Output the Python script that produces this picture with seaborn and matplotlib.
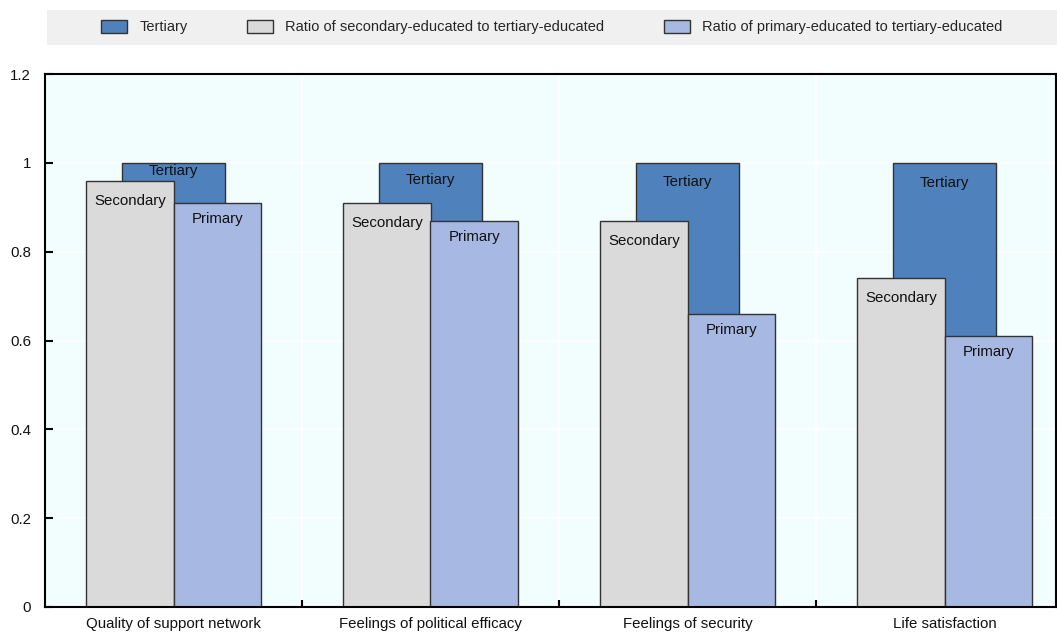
import pandas as pd
import matplotlib.pyplot as plt
import seaborn as sns
from matplotlib.patches import Patch, Rectangle

# Data
categories = ['Quality of support network', 'Feelings of political efficacy',
              'Feelings of security', 'Life satisfaction']
tertiary = [1.0, 1.0, 1.0, 1.0]
secondary = [0.96, 0.91, 0.87, 0.74]
primary = [0.91, 0.87, 0.66, 0.61]

c_tert = '#4f81bd'
c_sec = '#dadada'
c_prim = '#a7b9e3'
edge = '#333333'

sns.set_theme(style='white')
plt.rcParams['font.family'] = ['Liberation Sans', 'DejaVu Sans']
fs = 10.8

fig = plt.figure(figsize=(10.57, 6.34), dpi=100)
ax = fig.add_axes([45 / 1057, 27 / 634, 1011 / 1057, 533 / 634])
ax.set_facecolor('#f2fdfd')

# Tertiary bars behind
df_t = pd.DataFrame({'cat': categories, 'value': tertiary})
sns.barplot(data=df_t, x='cat', y='value', color=c_tert, width=0.4,
            edgecolor=edge, linewidth=1, saturation=1, errorbar=None, ax=ax)

# Secondary and primary ratios side by side
df_r = pd.DataFrame({
    'cat': categories * 2,
    'value': secondary + primary,
    'level': ['Secondary'] * 4 + ['Primary'] * 4,
})
sns.barplot(data=df_r, x='cat', y='value', hue='level', hue_order=['Secondary', 'Primary'],
            palette=[c_sec, c_prim], width=0.68, gap=0, dodge=True,
            edgecolor=edge, linewidth=1, saturation=1, errorbar=None, legend=False, ax=ax)

# bar labels (label offsets below bar top, in points)
tert_off = [-5.8, -12.5, -13.5, -14.5]
for i in range(len(categories)):
    ax.annotate('Tertiary', (i, tertiary[i]), xytext=(0, tert_off[i]), textcoords='offset points',
                ha='center', va='center', fontsize=fs, color='#111111')
    ax.annotate('Secondary', (i - 0.17, secondary[i]), xytext=(0, -14.4), textcoords='offset points',
                ha='center', va='center', fontsize=fs, color='#111111')
    ax.annotate('Primary', (i + 0.17, primary[i]), xytext=(0, -11.5), textcoords='offset points',
                ha='center', va='center', fontsize=fs, color='#111111')

ax.set_xlim(-0.5, 3.5 - 17 / 257)
ax.set_ylim(0, 1.2)
ax.set_yticks([0, 0.2, 0.4, 0.6, 0.8, 1.0, 1.2])
ax.set_yticklabels(['0', '0.2', '0.4', '0.6', '0.8', '1', '1.2'])
ax.set_xlabel('')
ax.set_ylabel('')
ax.set_xticks(range(len(categories)))
ax.set_xticklabels(categories)
ax.set_xticks([0.5, 1.5, 2.5], minor=True)
ax.tick_params(axis='x', which='major', length=0, pad=7, labelsize=fs, colors='#111111')
ax.tick_params(axis='x', which='minor', direction='in', length=5, width=1.5, color='black', bottom=True)
ax.tick_params(axis='y', direction='in', length=6, width=1.5, color='black', left=True,
               pad=10, labelsize=fs, labelcolor='#111111')

ax.grid(True, axis='y', color='white', linewidth=1.2)
ax.grid(True, axis='x', which='minor', color='white', linewidth=1.2)
ax.set_axisbelow(True)
for s in ax.spines.values():
    s.set_color('black')
    s.set_linewidth(1.5)
    s.set_visible(True)

# legend band on top
fig.patches.append(Rectangle((47 / 1057, 1 - 45 / 634), 1010 / 1057, 35 / 634,
                             transform=fig.transFigure, facecolor='#f0f0f0',
                             edgecolor='none', zorder=0))
handles = [Patch(facecolor=c_tert, edgecolor=edge, label='Tertiary'),
           Patch(facecolor=c_sec, edgecolor=edge, label='Ratio of secondary-educated to tertiary-educated'),
           Patch(facecolor=c_prim, edgecolor=edge, label='Ratio of primary-educated to tertiary-educated')]
fig.legend(handles=handles, loc='center', bbox_to_anchor=(552 / 1057, 1 - 27 / 634),
           ncol=3, frameon=False, fontsize=10.5, handlelength=1.78, handleheight=1.0,
           handletextpad=0.82, columnspacing=4.1)

fig.savefig('out.png', dpi=100)
